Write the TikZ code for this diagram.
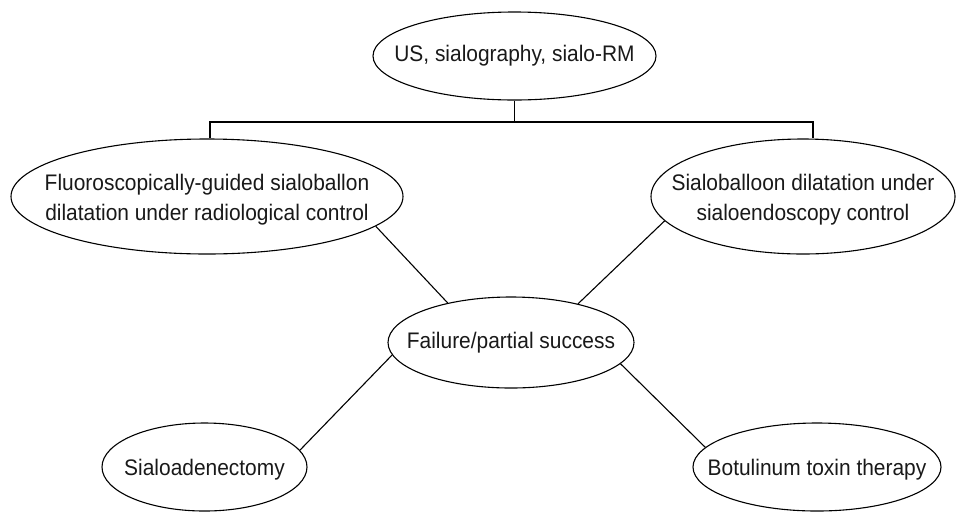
\documentclass[tikz,border=0pt]{standalone}
\usepackage{fontspec}
\setmainfont[FakeStretch=0.93]{Liberation Sans}
\usetikzlibrary{shapes.geometric}
\tikzset{
  ell/.style={ellipse, draw=black, line width=1.1pt, inner sep=0pt},
  lbl/.style={inner sep=0pt, align=center, text=black!90, font=\fontsize{22.5}{30}\selectfont},
  conn/.style={draw=black, line width=1.1pt}
}
\begin{document}
\begin{tikzpicture}[x=1pt,y=-1pt]
\useasboundingbox (0,0) rectangle (957,512);
% ellipses
\node[ell, minimum width=283, minimum height=88]  (us)     at (514.5,56)  {};
\node[ell, minimum width=392, minimum height=115] (fluoro) at (207,196.5) {};
\node[ell, minimum width=304, minimum height=115] (sialo)  at (803,196.5) {};
\node[ell, minimum width=246, minimum height=91]  (fail)   at (511,342.5) {};
\node[ell, minimum width=205, minimum height=88]  (aden)   at (204.5,467) {};
\node[ell, minimum width=248, minimum height=88]  (botox)  at (817,467)   {};
% labels
\node[lbl] (usT)     at (us.center)     {US, sialography, sialo-RM};
\node[lbl] (fluoroT) at ([yshift=-3]fluoro.center) {Fluoroscopically-guided sialoballon\\dilatation under radiological control};
\node[lbl] (sialoT)  at ([yshift=-3]sialo.center)  {Sialoballoon dilatation under\\sialoendoscopy control};
\node[lbl] (failT)   at (fail.center)   {Failure/partial success};
\node[lbl] (adenT)   at ([yshift=-3]aden.center)   {Sialoadenectomy};
\node[lbl] (botoxT)  at ([yshift=-3]botox.center)  {Botulinum toxin therapy};
% tree connector
\coordinate (busL) at (210,122);
\coordinate (busR) at (813,122);
\draw[conn] (us.south) -- (us.south |- busL);
\draw[conn] ([xshift=3]fluoro.north) -- (busL) -- (busR) -- ([xshift=10]sialo.north);
% diagonal connectors
\draw[conn] (fluoro.-10.9) -- (fail.148);
\draw[conn] (sialo.190.6) -- (fail.30.6);
\draw[conn] (fail.186) -- (aden.10.4);
\draw[conn] (fail.-11) -- (botox.170);
\end{tikzpicture}
\end{document}
